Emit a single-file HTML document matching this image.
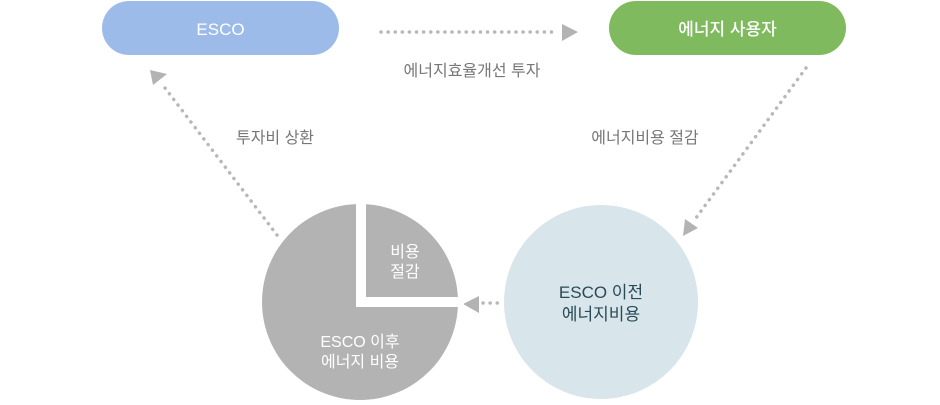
<!DOCTYPE html>
<html><head><meta charset="utf-8"><style>
html,body{margin:0;padding:0;background:#fff;}
body{width:940px;height:405px;overflow:hidden;position:relative;font-family:"Liberation Sans","Noto Sans CJK KR",sans-serif;}
</style></head><body>
<svg width="940" height="405" viewBox="0 0 940 405" xmlns="http://www.w3.org/2000/svg" style="position:absolute;left:0;top:0">
<g font-family="Liberation Sans, Noto Sans CJK KR, sans-serif">
<rect x="102" y="1" width="237" height="54" rx="27" fill="#9dbbe9"/>
<text x="220.5" y="35" font-size="17" font-weight="500" fill="#fff" text-anchor="middle">ESCO</text>
<rect x="609" y="1" width="237" height="54" rx="27" fill="#7fbb5e"/>
<text x="727.5" y="35" font-size="17" font-weight="500" fill="#fff" text-anchor="middle">에너지 사용자</text>
<g stroke="#b8b8b8" stroke-width="3.5" stroke-linecap="round" stroke-dasharray="0.1 7" fill="none">
<line x1="381" y1="32" x2="558" y2="32"/>
<line x1="806" y1="68" x2="693" y2="222"/>
<line x1="277" y1="235" x2="162" y2="84"/>
<line x1="483" y1="303" x2="502" y2="303"/>
</g>
<g fill="#b3b3b3">
<polygon points="562,24 578,32 562,41"/>
<polygon points="683,236 685,219 698,228"/>
<polygon points="150,70 167,74 153,85"/>
<polygon points="463,304 479,296 479,313"/>
</g>
<text x="472" y="76" font-size="16" fill="#777" text-anchor="middle">에너지효율개선 투자</text>
<text x="275" y="143" font-size="16" fill="#777" text-anchor="middle">투자비 상환</text>
<text x="645" y="143" font-size="16" fill="#777" text-anchor="middle">에너지비용 절감</text>
<circle cx="360" cy="302" r="98" fill="#b3b3b3"/>
<rect x="356" y="195" width="10" height="112" fill="#fff"/>
<rect x="356" y="297" width="108" height="10" fill="#fff"/>
<text x="405" y="257" font-size="16" fill="#fff" text-anchor="middle">비용</text>
<text x="405" y="277" font-size="16" fill="#fff" text-anchor="middle">절감</text>
<text x="360" y="347" font-size="16" fill="#fff" text-anchor="middle">ESCO 이후</text>
<text x="360" y="367" font-size="16" fill="#fff" text-anchor="middle">에너지 비용</text>
<circle cx="601" cy="302" r="97" fill="#d8e5ea"/>
<text x="601" y="298" font-size="17" fill="#2a4a57" text-anchor="middle">ESCO 이전</text>
<text x="601" y="320" font-size="17" fill="#2a4a57" text-anchor="middle">에너지비용</text>
</g>
</svg>
</body></html>
